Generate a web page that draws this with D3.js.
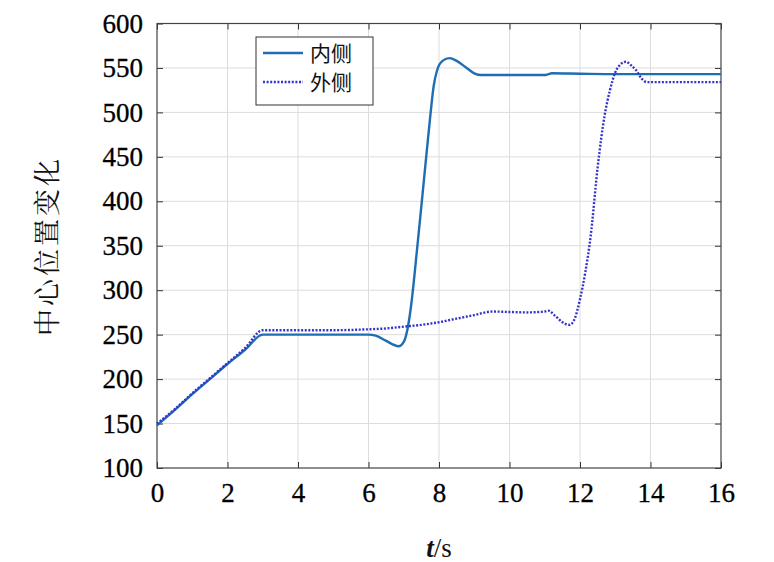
<!DOCTYPE html>
<html><head><meta charset="utf-8">
<script src="https://cdn.jsdelivr.net/npm/d3@7/dist/d3.min.js"></script>
<style>body{margin:0;background:#fff} .serif{font-family:"Liberation Serif","Times New Roman",serif;}</style>
</head><body>
<svg id="c" width="774" height="562"></svg>
<script>
const xTicks = [0,2,4,6,8,10,12,14,16];
const yTicks = [100,150,200,250,300,350,400,450,500,550,600];
const seriesNames = ["内侧","外侧"];
const innerT = [0,0.5,1,1.5,2,2.5,3,4,5,6,6.2,6.5,6.85,7.0,7.1,7.2,7.4,7.6,7.75,7.85,7.95,8.1,8.3,8.5,8.75,9.0,9.2,10,11,11.1,11.2,12,13,14,15,16];
const innerV = [148,165,183,200,217,233,250,250,250,250,249,243,237,242,255,280,355,435,495,530,548,558,561,558,551,544,542,542,542,543,544,543.5,543,543,543,543];
const outerT = [0,0.5,1,1.5,2,2.5,3,4,5,6,6.5,7,7.5,8,8.5,9,9.5,10,10.5,11,11.1,11.3,11.5,11.7,11.85,12.0,12.15,12.3,12.5,12.7,12.85,13.0,13.15,13.3,13.45,13.6,13.75,13.9,14,15,16];
const outerV = [150,166,184,201,218,235,255,255,255,256,257,259,261,264,268,272,276,275.5,275,276,277,271,264,261,268,290,320,360,438,497,525,545,554,557,553,547,538,534,534,534,534];

const svg = d3.select("#c");
const L=157,R=721,T=23.5,B=468;
const x = d3.scaleLinear().domain([0,16]).range([L,R]);
const y = d3.scaleLinear().domain([100,600]).range([B,T]);
const g = svg.append("g");
g.selectAll(".gx").data(xTicks.slice(1,-1)).enter().append("line")
 .attr("x1",d=>x(d)).attr("x2",d=>x(d)).attr("y1",T).attr("y2",B)
 .attr("stroke","#dcdcdc").attr("stroke-width",1);
g.selectAll(".gy").data(yTicks.slice(1,-1)).enter().append("line")
 .attr("y1",d=>y(d)).attr("y2",d=>y(d)).attr("x1",L).attr("x2",R)
 .attr("stroke","#dcdcdc").attr("stroke-width",1);
const ax = (gen, tr) => {
  const a = svg.append("g").attr("transform",tr).call(gen);
  a.attr("font-family",null).attr("font-size",null);
  a.select(".domain").remove();
  a.selectAll("line").attr("stroke","#333");
  a.selectAll("text").attr("class","serif").style("font-size","27px").attr("fill","#000")
   .attr("stroke","#000").attr("stroke-width",0.3);
  return a;
};
ax(d3.axisBottom(x).tickValues(xTicks).tickSize(-6).tickPadding(15), `translate(0,${B})`);
ax(d3.axisTop(x).tickValues(xTicks).tickSize(-6).tickFormat(""), `translate(0,${T})`);
ax(d3.axisLeft(y).tickValues(yTicks).tickSize(-6).tickPadding(14), `translate(${L},0)`);
ax(d3.axisRight(y).tickValues(yTicks).tickSize(-6).tickFormat(""), `translate(${R},0)`);
svg.append("rect").attr("x",L).attr("y",T).attr("width",R-L).attr("height",B-T)
 .attr("fill","none").attr("stroke","#444").attr("stroke-width",1.2);

const line = d3.line().x(d=>x(d[0])).y(d=>y(d[1])).curve(d3.curveMonotoneX);
const inner = innerT.map((t,i)=>[t,innerV[i]]);
const outer = outerT.map((t,i)=>[t,outerV[i]]);
svg.append("path").datum(inner).attr("d",line).attr("fill","none")
 .attr("stroke","#1f6db3").attr("stroke-width",2.4);
svg.append("path").datum(outer).attr("d",line).attr("fill","none")
 .attr("stroke","#3434cc").attr("stroke-width",2.4).attr("stroke-dasharray","2,1.6");

const lg = svg.append("g");
lg.append("rect").attr("x",256).attr("y",37).attr("width",117).attr("height",68)
 .attr("fill","#fff").attr("stroke","#333").attr("stroke-width",1);
const cjk = "Noto Sans CJK SC";
[[53,"#1f6db3",null],[82,"#3434cc","2,1.6"]].forEach((r,i)=>{
  const l = lg.append("line").attr("x1",263).attr("x2",303).attr("y1",r[0]).attr("y2",r[0])
   .attr("stroke",r[1]).attr("stroke-width",2.4);
  if(r[2]) l.attr("stroke-dasharray",r[2]);
  lg.append("text").attr("x",310).attr("y",r[0]+8).text(seriesNames[i])
   .style("font-family",cjk).style("font-size","21px").attr("fill","#111");
});
svg.append("text").attr("transform","translate(57,246) rotate(-90)").attr("text-anchor","middle")
 .style("font-family","Noto Serif CJK SC").style("font-size","27px").attr("letter-spacing",3).attr("fill","#111").text("中心位置变化");
const xl = svg.append("text").attr("x",439).attr("y",557).attr("text-anchor","middle")
 .attr("class","serif").style("font-size","27px").attr("fill","#111");
xl.append("tspan").attr("font-style","italic").attr("font-weight","bold").text("t");
xl.append("tspan").text("/s");
</script>
</body></html>
